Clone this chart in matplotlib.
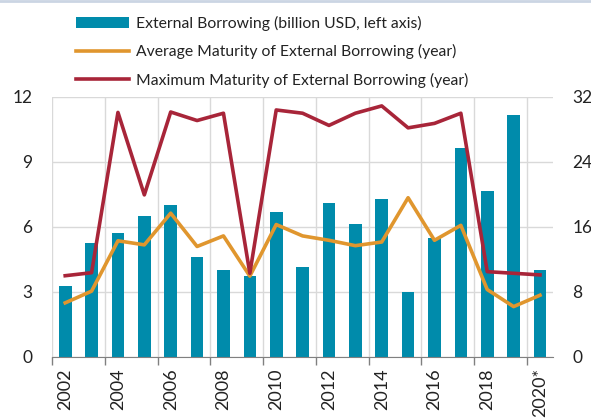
import matplotlib.pyplot as plt
import numpy as np
from matplotlib.lines import Line2D

years = ["2002", "2003", "2004", "2005", "2006", "2007", "2008", "2009", "2010", "2011",
         "2012", "2013", "2014", "2015", "2016", "2017", "2018", "2019", "2020*"]
borrowing = [3.27, 5.26, 5.72, 6.49, 7.02, 4.61, 4.0, 3.73, 6.69, 4.16,
             7.1, 6.12, 7.3, 3.0, 5.49, 9.64, 7.68, 11.15, 4.0]
avg_maturity = [6.66, 8.1, 14.3, 13.8, 17.7, 13.6, 14.9, 9.95, 16.3, 14.9,
                14.36, 13.7, 14.15, 19.6, 14.36, 16.2, 8.3, 6.2, 7.6]
max_maturity = [10.0, 10.37, 30.1, 19.95, 30.15, 29.1, 30.0, 10.3, 30.4, 30.0,
                28.5, 30.0, 30.9, 28.2, 28.75, 30.0, 10.5, 10.3, 10.1]

plt.rcParams['font.family'] = ['Lato', 'DejaVu Sans']

teal = '#008BAB'
orange = '#E0962E'
red = '#A82539'
grid = '#D9D9D9'

fig = plt.figure(figsize=(5.91, 4.18), dpi=100)
ax = fig.add_axes([0.088, 0.146, 0.848, 0.622])
ax2 = ax.twinx()

x = np.arange(len(years))
ax.bar(x, borrowing, width=0.48, color=teal, zorder=2,
       label='External Borrowing (billion USD, left axis)')
ax2.plot(x, avg_maturity, color=orange, lw=2.6, label='Average Maturity of External Borrowing (year)')
ax2.plot(x, max_maturity, color=red, lw=2.6, label='Maximum Maturity of External Borrowing (year)')

ax.set_xlim(-0.5, len(years) - 0.5)
ax.set_ylim(0, 12)
ax.set_yticks([0, 3, 6, 9, 12])
ax2.set_ylim(0, 32)
ax2.set_yticks([0, 8, 16, 24, 32])

# ticks at the boundaries, labels at bar centres
ax.set_xticks(np.arange(-0.5, len(years) - 1, 2))
ax.set_xticklabels([])
ax.set_xticks(x[::2], minor=True)
ax.set_xticklabels(years[::2], minor=True, rotation=90)
ax.tick_params(axis='x', which='major', length=6, color='#808080', width=1)
ax.tick_params(axis='x', which='minor', length=0, pad=8, labelsize=13, labelcolor='#222222')
ax.tick_params(axis='y', length=0, pad=14, labelsize=12.5, labelcolor='#222222')
ax2.tick_params(axis='y', length=0, pad=14, labelsize=12.5, labelcolor='#222222')

ax.grid(True, which='major', color=grid, lw=1, zorder=0)
ax.set_axisbelow(True)
for a in (ax, ax2):
    for s in ('top', 'right', 'left'):
        a.spines[s].set_visible(False)
ax.spines['bottom'].set_color('#808080')
ax2.spines['bottom'].set_visible(False)

h1, l1 = ax.get_legend_handles_labels()
h2, l2 = ax2.get_legend_handles_labels()
fig.legend(h1 + h2, l1 + l2, loc='upper left', bbox_to_anchor=(0.11, 0.988),
           frameon=False, fontsize=11.3, handlelength=3.4, handletextpad=0.45,
           labelspacing=0.85, borderaxespad=0.3, labelcolor='#222222')

fig.add_artist(Line2D([0, 1], [0.998, 0.998], transform=fig.transFigure,
                      color='#CBD5E3', lw=2))

plt.savefig('out.png', dpi=100)
